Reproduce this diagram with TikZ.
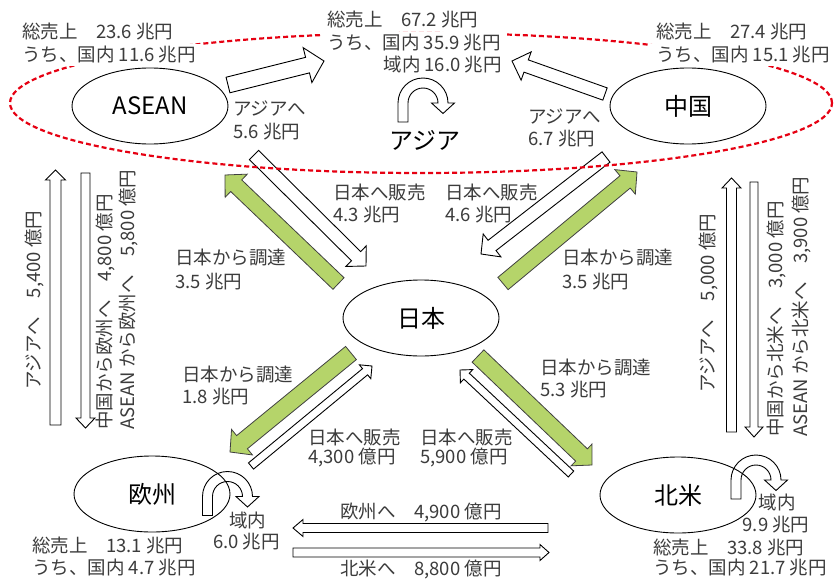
\documentclass[tikz,border=0pt]{standalone}
\usepackage{fontspec}
\setmainfont{Noto Sans CJK JP}
\usetikzlibrary{calc,shapes.geometric}
\definecolor{lgreen}{RGB}{181,212,106}
\definecolor{dred}{RGB}{230,0,18}
\definecolor{txt}{RGB}{60,60,60}
% block arrow: style, tail, tip, shaft half width, head half width, head length
\newcommand\barrow[6]{%
  \coordinate (bah) at ($(#3)!#6!(#2)$);
  \draw[#1] ($(#2)!#4!90:(#3)$) -- ($(bah)!#4!-90:(#2)$) -- ($(bah)!#5!-90:(#2)$)
    -- (#3) -- ($(bah)!#5!90:(#2)$) -- ($(bah)!#4!90:(#2)$) -- ($(#2)!#4!-90:(#3)$) -- cycle;}
% U-turn arrow centred at arc centre
\newcommand\uturn[2]{%
  \draw[wbar, shift={(#1,#2)}] (-25,-19) -- (-25,0) arc[start angle=180,end angle=0,radius=25]
    -- (31.5,0) -- (20,-10.5) -- (8.5,0) -- (15,0) arc[start angle=0,end angle=180,radius=15]
    -- (-15,-19) -- cycle;}
\begin{document}
\begin{tikzpicture}[x=1pt,y=1pt,
  wbar/.style={draw=black, fill=white, line width=0.9pt, line join=miter},
  gbar/.style={draw=black!75, fill=lgreen, line width=0.8pt, line join=miter},
  region/.style={draw=black, line width=0.9pt, ellipse, minimum width=156pt, minimum height=76pt, inner sep=0pt, font=\fontsize{24}{28}\selectfont, text=black},
  lbl/.style={font=\fontsize{18.5}{22}\selectfont, text=txt, inner sep=0pt, anchor=west},
  lblw/.style={lbl, fill=white, inner xsep=6pt, inner ysep=2pt},
  vlbl/.style={lbl, rotate=90, anchor=west},
  redring/.style={draw=dred, line width=2.2pt, dash pattern=on 5pt off 3pt}
]
\fill[white] (0,0) rectangle (834,-578);
\useasboundingbox (0,0) rectangle (834,-578);

% ---------- coordinates for block arrows ----------
\coordinate (w1a) at (228,-85);   \coordinate (w1b) at (324,-61);
\coordinate (w2a) at (605,-94);   \coordinate (w2b) at (512,-61);
\coordinate (w3a) at (254,-155);  \coordinate (w3b) at (366,-266);
\coordinate (w4a) at (606,-157);  \coordinate (w4b) at (481,-254);
\coordinate (g1a) at (338.5,-283.5); \coordinate (g1b) at (225,-175);
\coordinate (g2a) at (503,-283.5);   \coordinate (g2b) at (637,-172);
\coordinate (g3a) at (351,-353);  \coordinate (g3b) at (230,-452);
\coordinate (g4a) at (478,-356);  \coordinate (g4b) at (592,-465);
\coordinate (w5a) at (251,-466);  \coordinate (w5b) at (372,-366);
\coordinate (w6a) at (571,-474);  \coordinate (w6b) at (460,-370);
\coordinate (v1a) at (55.5,-425); \coordinate (v1b) at (55.5,-170);
\coordinate (v2a) at (85.5,-173); \coordinate (v2b) at (85.5,-428);
\coordinate (v3a) at (731.5,-432); \coordinate (v3b) at (731.5,-178);
\coordinate (v4a) at (754,-182);  \coordinate (v4b) at (754,-437);
\coordinate (h1a) at (548,-528);  \coordinate (h1b) at (293,-528);
\coordinate (h2a) at (293,-552.5); \coordinate (h2b) at (549,-552.5);

\barrow{wbar}{w1a}{w1b}{8pt}{18pt}{17pt}
\barrow{wbar}{w2a}{w2b}{6.5pt}{15pt}{15pt}
\barrow{wbar}{w3a}{w3b}{6.5pt}{14.5pt}{14pt}
\barrow{wbar}{w4a}{w4b}{6.5pt}{14.5pt}{14pt}
\barrow{gbar}{g1a}{g1b}{8pt}{16pt}{15.5pt}
\barrow{gbar}{g2a}{g2b}{8pt}{16pt}{15.5pt}
\barrow{gbar}{g3a}{g3b}{8.5pt}{16.5pt}{15.5pt}
\barrow{gbar}{g4a}{g4b}{8.5pt}{15pt}{14.5pt}
\barrow{wbar}{w5a}{w5b}{4pt}{9pt}{9pt}
\barrow{wbar}{w6a}{w6b}{4pt}{9pt}{9pt}
\barrow{wbar}{v1a}{v1b}{5.5pt}{10pt}{10pt}
\barrow{wbar}{v2a}{v2b}{4.5pt}{9.5pt}{10pt}
\barrow{wbar}{v3a}{v3b}{5pt}{9.5pt}{10pt}
\barrow{wbar}{v4a}{v4b}{4pt}{9pt}{10pt}
\barrow{wbar}{h1a}{h1b}{4.5pt}{8.5pt}{10pt}
\barrow{wbar}{h2a}{h2b}{4.5pt}{8pt}{9pt}

% ---------- U-turn arrows ----------
\uturn{423}{-103}
\uturn{227.5}{-496.5}
\uturn{756}{-480}

% ---------- Asia ring ----------
\draw[redring] (421,-103) ellipse [x radius=411, y radius=70];

% ---------- regions ----------
\node[region] (asean) at (150,-106) {ASEAN};
\node[region] (china) at (688,-106) {中国};
\node[region] (japan) at (421,-318) {日本};
\node[region] (eu) at (152,-494) {欧州};
\node[region] (na) at (678,-495) {北米};
\node[font=\fontsize{24}{28}\selectfont, inner sep=0pt] (asia) at (425,-140) {アジア};

% ---------- totals ----------
\node[lblw] (t1a) at (16,-32) {総売上　23.6 兆円};
\node[lblw] (t1b) at (16,-55) {うち、国内 11.6 兆円};
\node[lblw] (t2a) at (321,-20) {総売上　67.2 兆円};
\node[lblw] (t2b) at (321,-43) {うち、国内 35.9 兆円};
\node[lblw, anchor=east] (t2c) at (508,-65) {域内 16.0 兆円};
\node[lblw] (t3a) at (650,-32) {総売上　27.4 兆円};
\node[lblw] (t3b) at (650,-55) {うち、国内 15.1 兆円};
\node[lbl] (t4a) at (32,-546) {総売上　13.1 兆円};
\node[lbl] (t4b) at (32,-568) {うち、国内 4.7 兆円};
\node[lbl] (t5a) at (653,-548) {総売上　33.8 兆円};
\node[lbl] (t5b) at (653,-568) {うち、国内 21.7 兆円};

% ---------- flow labels ----------
\node[lbl] (l1a) at (233,-108) {アジアへ};
\node[lbl] (l1b) at (233,-132) {5.6 兆円};
\node[lbl] (l2a) at (528,-116) {アジアへ};
\node[lbl] (l2b) at (528,-139) {6.7 兆円};
\node[lbl] (l3a) at (333,-192) {日本へ販売};
\node[lbl] (l3b) at (333,-215) {4.3 兆円};
\node[lbl] (l4a) at (445,-192) {日本へ販売};
\node[lbl] (l4b) at (445,-215) {4.6 兆円};
\node[lbl] (l5a) at (175,-258) {日本から調達};
\node[lbl] (l5b) at (175,-282) {3.5 兆円};
\node[lbl] (l6a) at (562,-258) {日本から調達};
\node[lbl] (l6b) at (562,-282) {3.5 兆円};
\node[lbl] (l7a) at (182,-375) {日本から調達};
\node[lbl] (l7b) at (182,-397) {1.8 兆円};
\node[lbl] (l8a) at (308,-437) {日本へ販売};
\node[lbl] (l8b) at (308,-458) {4,300 億円};
\node[lbl] (l9a) at (420,-437) {日本へ販売};
\node[lbl] (l9b) at (420,-458) {5,900 億円};
\node[lbl] (l10a) at (540,-368) {日本から調達};
\node[lbl] (l10b) at (540,-390) {5.3 兆円};
\node[lbl, anchor=center] (l11a) at (247.5,-520) {域内};
\node[lbl, anchor=center] (l11b) at (246.5,-542) {6.0 兆円};
\node[lbl, anchor=center] (l12a) at (777,-502) {域内};
\node[lbl, anchor=center] (l12b) at (776,-525) {9.9 兆円};
\node[lbl] (l13) at (340,-512) {欧州へ　4,900 億円};
\node[lbl] (l14) at (340,-569) {北米へ　8,800 億円};

% ---------- vertical labels ----------
\node[vlbl] (r1) at (35,-390) {アジアへ　5,400 億円};
\node[vlbl] (r2) at (105,-430) {中国から欧州へ　4,800 億円};
\node[vlbl] (r3) at (128,-430) {ASEAN から欧州へ　5,800 億円};
\node[vlbl] (r4) at (709,-393) {アジアへ　5,000 億円};
\node[vlbl] (r5) at (776,-437) {中国から北米へ　3,000 億円};
\node[vlbl] (r6) at (801,-437) {ASEAN から北米へ　3,900 億円};
\end{tikzpicture}
\end{document}
